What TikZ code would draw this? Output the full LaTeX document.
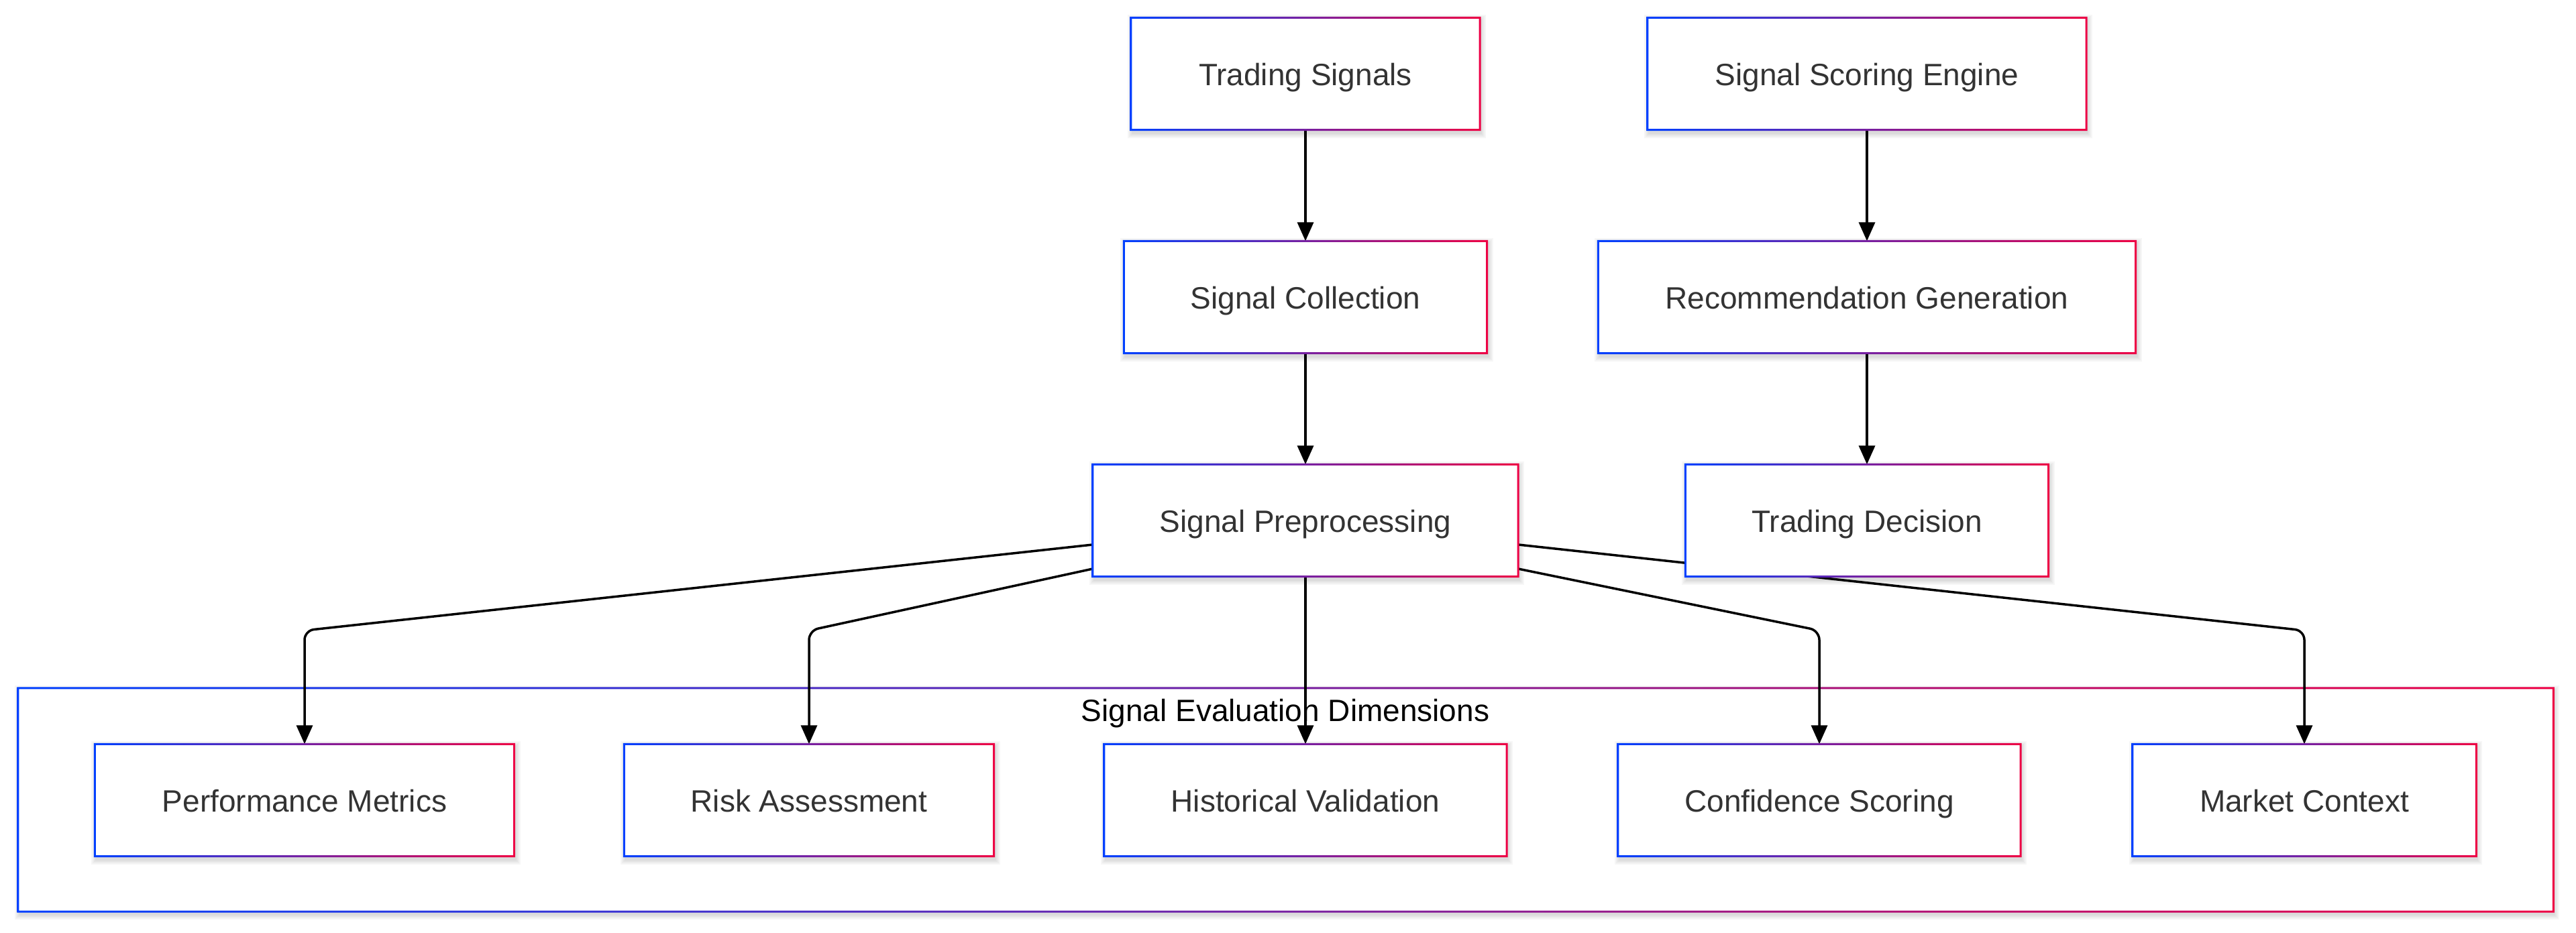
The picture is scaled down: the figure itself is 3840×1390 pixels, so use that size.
\documentclass[tikz,border=0pt]{standalone}
\usepackage{fontspec}
\setmainfont{Liberation Sans}
\usetikzlibrary{arrows.meta}
\definecolor{gblue}{RGB}{0,64,255}
\definecolor{gred}{RGB}{238,0,68}
\definecolor{txt}{RGB}{51,51,51}
\pgfdeclarelayer{lpaper}
\pgfdeclarelayer{lgroup}
\pgfdeclarelayer{lshadow}
\pgfdeclarelayer{ledges}
\pgfsetlayers{lpaper,lgroup,lshadow,ledges,main}
\tikzset{
  box/.style={rectangle, fill=white, minimum height=167pt, inner sep=0pt, text=txt,
    font=\fontsize{46}{55}\selectfont, text height=34pt, text depth=0pt},
  grpbox/.style={rectangle, fill=white, inner sep=0pt},
  conn/.style={line width=3.5pt, black, -{Triangle[width=24pt,length=28pt]}},
  link/.style={conn, rounded corners=14pt},
  ring/.style={left color=gblue, right color=gred, even odd rule},
  shadowfill/.style={fill=black, opacity=0.035},
}
\newcommand\gradring[2]{%
  \path[ring] ([xshift=-#2,yshift=#2]#1.north west) rectangle ([xshift=#2,yshift=-#2]#1.south east)
              ([xshift=#2,yshift=-#2]#1.north west) rectangle ([xshift=-#2,yshift=#2]#1.south east);}
\newcommand\softshadow[1]{%
  \foreach \r in {1,3,5,7}{%
    \path[shadowfill] ([xshift={2-\r},yshift={-3+\r}]#1.north west) rectangle ([xshift={2+\r},yshift={-5-\r}]#1.south east);}}
\begin{document}
\begin{tikzpicture}[x=1pt,y=-1pt]
\useasboundingbox (0,0) rectangle (3840,1390);
\begin{pgfonlayer}{lpaper}
\fill[white] (0,0) rectangle (3840,1390);
\end{pgfonlayer}

% nodes
\node[box, minimum width=520pt] (ts)  at (1946,110) {Trading Signals};
\node[box, minimum width=654pt] (sse) at (2783,110) {Signal Scoring Engine};
\node[box, minimum width=541pt] (sc)  at (1946,443) {Signal Collection};
\node[box, minimum width=801pt] (rg)  at (2783,443) {Recommendation Generation};
\node[box, minimum width=634pt] (sp)  at (1946,776) {Signal Preprocessing};
\node[box, minimum width=541pt] (td)  at (2783,776) {Trading Decision};
\node[box, minimum width=625pt] (pm)  at (454,1193) {Performance Metrics};
\node[box, minimum width=551pt] (ra)  at (1206,1193) {Risk Assessment};
\node[box, minimum width=600pt] (hv)  at (1946,1193) {Historical Validation};
\node[box, minimum width=600pt] (cs)  at (2712,1193) {Confidence Scoring};
\node[box, minimum width=512pt] (mc)  at (3435,1193) {Market Context};

\foreach \n in {ts,sse,sc,rg,sp,td,pm,ra,hv,cs,mc}{\gradring{\n}{1.5pt}}
\begin{pgfonlayer}{lshadow}
\foreach \n in {ts,sse,sc,rg,sp,td,pm,ra,hv,cs,mc}{\softshadow{\n}}
\end{pgfonlayer}

% group
\begin{pgfonlayer}{lgroup}
\node[grpbox, minimum width=3779pt, minimum height=333pt] (grp) at (1916.5,1192.5) {};
\gradring{grp}{1.5pt}
\end{pgfonlayer}
\begin{pgfonlayer}{lpaper}
\softshadow{grp}
\end{pgfonlayer}
\node[text=black, font=\fontsize{46}{55}\selectfont, inner sep=0pt] (glabel) at (1916,1064) {Signal Evaluation Dimensions};

% edges
\coordinate (by) at (0,940);
\begin{pgfonlayer}{ledges}
\draw[conn] (ts) -- (sc);
\draw[conn] (sc) -- (sp);
\draw[conn] (sse) -- (rg);
\draw[conn] (rg) -- (td);
\draw[link] ([yshift=-36pt]sp.west) -- (pm.north |- by) -- (pm.north);
\draw[link] ([yshift=-72pt]sp.west) -- (ra.north |- by) -- (ra.north);
\draw[conn] (sp) -- (hv);
\draw[link] ([yshift=-72pt]sp.east) -- (cs.north |- by) -- (cs.north);
\draw[link] ([yshift=-36pt]sp.east) -- (mc.north |- by) -- (mc.north);
\end{pgfonlayer}
\end{tikzpicture}
\end{document}
